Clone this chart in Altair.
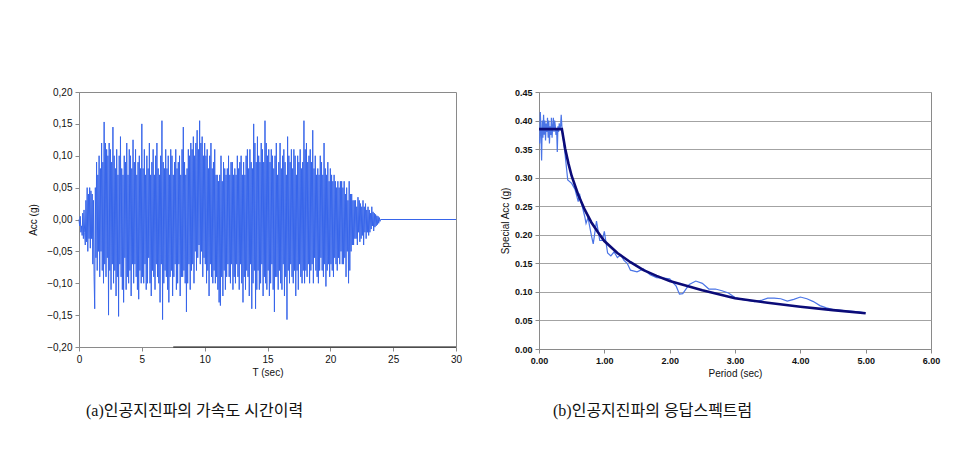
import altair as alt
import pandas as pd

# ---------------- (a) acceleration time history, dt = 0.05 s, one row per second
acc_rows = [
    [0.00,-0.01,0.005,-0.02,-0.01,-0.025,0.01,-0.03,0.015,-0.02,-0.04,0.03,-0.035,0.05,-0.05,0.04,-0.03,0.05,-0.045,0.045],
    [-0.03,0.04,-0.07,0.03,-0.09,-0.14,0.05,-0.06,0.09,-0.08,0.07,-0.05,0.10,-0.09,0.08,-0.05,0.12,-0.08,0.09,-0.10],
    [0.153,-0.07,0.12,-0.09,0.11,-0.06,0.10,-0.15,0.12,-0.08,0.11,-0.11,0.09,-0.07,0.145,-0.10,0.10,-0.08,0.08,-0.12],
    [0.11,-0.09,0.07,-0.152,0.10,-0.07,0.13,-0.09,0.08,-0.11,0.07,-0.13,0.10,-0.06,0.09,-0.11,0.12,-0.09,0.07,-0.10],
    [0.11,-0.08,0.10,-0.12,0.08,-0.07,0.125,-0.10,0.09,-0.07,0.11,-0.09,0.07,-0.11,0.09,-0.125,0.10,-0.08,0.08,-0.10],
    [0.15,-0.09,0.08,-0.10,0.11,-0.07,0.07,-0.11,0.10,-0.10,0.08,-0.06,0.12,-0.10,0.07,-0.12,0.09,-0.08,0.11,-0.09],
    [0.07,-0.11,0.10,-0.07,0.12,-0.09,0.08,-0.10,0.07,-0.13,0.10,-0.07,0.155,-0.157,0.09,-0.10,0.08,-0.08,0.11,-0.09],
    [0.08,-0.11,0.10,-0.13,0.07,-0.09,0.11,-0.08,0.10,-0.12,0.07,-0.09,0.09,-0.07,0.11,-0.11,0.08,-0.10,0.09,-0.07],
    [0.10,-0.12,0.07,-0.09,0.11,-0.09,0.145,-0.08,0.09,-0.10,0.07,-0.145,0.08,-0.10,0.11,-0.07,0.10,-0.11,0.12,-0.08],
    [0.11,-0.07,0.13,-0.10,0.10,-0.05,0.12,-0.08,0.14,-0.06,0.11,-0.04,0.155,-0.07,0.12,-0.05,0.13,-0.09,0.10,-0.06],
    [0.12,-0.07,0.10,-0.10,0.11,-0.08,0.08,-0.12,0.10,-0.07,0.12,-0.09,0.08,-0.10,0.09,-0.08,0.11,-0.10,0.07,-0.09],
    [0.07,-0.11,0.06,-0.13,0.07,-0.135,0.10,-0.09,0.06,-0.12,0.09,-0.08,0.08,-0.11,0.07,-0.09,0.08,-0.07,0.10,-0.09],
    [0.07,-0.10,0.09,-0.07,0.09,-0.11,0.07,-0.09,0.08,-0.10,0.07,-0.07,0.10,-0.09,0.08,-0.11,0.09,-0.07,0.10,-0.10],
    [0.07,-0.13,0.09,-0.09,0.07,-0.11,0.10,-0.08,0.11,-0.09,0.08,-0.12,0.11,-0.07,0.09,-0.14,0.08,-0.10,0.15,-0.08],
    [0.12,-0.14,0.09,-0.11,0.13,-0.08,0.10,-0.11,0.09,-0.10,0.12,-0.07,0.11,-0.12,0.09,-0.09,0.155,-0.10,0.12,-0.11],
    [0.10,-0.08,0.11,-0.12,0.09,-0.10,0.11,-0.07,0.10,-0.11,0.08,-0.145,0.10,-0.09,0.12,-0.09,0.07,-0.11,0.09,-0.08],
    [0.12,-0.10,0.08,-0.11,0.10,-0.07,0.11,-0.12,0.09,-0.09,0.07,-0.157,0.13,-0.08,0.10,-0.10,0.09,-0.07,0.11,-0.09],
    [0.08,-0.10,0.11,-0.08,0.10,-0.12,0.07,-0.08,0.10,-0.11,0.09,-0.07,0.11,-0.09,0.08,-0.10,0.09,-0.08,0.155,-0.10],
    [0.11,-0.08,0.12,-0.09,0.09,-0.07,0.10,-0.10,0.11,-0.08,0.09,-0.07,0.14,-0.10,0.08,-0.06,0.10,-0.08,0.07,-0.09],
    [0.08,-0.10,0.07,-0.08,0.10,-0.06,0.09,-0.08,0.07,-0.09,0.12,-0.07,0.08,-0.105,0.07,-0.08,0.09,-0.07,0.06,-0.09],
    [0.08,-0.07,0.07,-0.08,0.06,-0.09,0.07,-0.06,0.06,-0.07,0.05,-0.08,0.06,-0.06,0.05,-0.07,0.06,-0.05,0.06,-0.07],
    [0.05,-0.07,0.06,-0.06,0.04,-0.09,0.05,-0.05,0.03,-0.10,0.06,-0.08,0.04,-0.05,0.04,-0.04,0.03,-0.04,0.03,-0.03],
    [0.03,-0.03,0.02,-0.04,0.035,-0.02,0.03,-0.035,0.025,-0.03,0.02,-0.025,0.03,-0.04,0.02,-0.02,0.025,-0.03,0.015,-0.02],
    [0.02,-0.025,0.015,-0.02,0.01,-0.015,0.02,-0.01,0.012,-0.018,0.01,-0.012,0.008,-0.01,0.006,-0.008,0.005,-0.006,0.003,-0.003],
]
acc_tail_t = [24.0, 30.0]
acc_tail_v = [0.0, 0.0]
dt = 0.05

# ---------------- (b) response spectrum
spec_T = [0.01,0.02,0.03,0.04,0.05,0.06,0.07,0.08,0.09,0.10,0.11,0.12,0.13,0.14,0.15,0.16,0.17,0.18,
          0.19,0.20,0.21,0.22,0.23,0.24,0.25,0.26,0.27,0.28,0.29,0.30,0.31,0.32,0.33,0.34,0.35,
          0.40,0.44,0.50,0.55,0.60,0.62,0.65,0.70,0.72,0.75,0.80,0.83,0.88,0.93,0.97,1.00,1.05,1.10,1.15,
          1.20,1.25,1.30,1.35,1.40,1.50,1.60,1.70,1.80,1.90,2.00,2.10,2.15,2.20,2.30,2.40,2.50,2.60,
          2.70,2.80,2.90,3.00,3.10,3.20,3.30,3.40,3.50,3.60,3.70,3.80,3.90,4.00,4.10,4.20,4.30,4.40,
          4.50,4.60,4.70,4.80,4.90,5.00]
spec_A = [0.36,0.415,0.38,0.33,0.40,0.37,0.41,0.375,0.40,0.365,0.395,0.38,0.405,0.37,0.40,0.36,0.39,0.375,
          0.405,0.37,0.39,0.405,0.38,0.40,0.39,0.375,0.385,0.345,0.39,0.38,0.395,0.385,0.39,0.41,0.39,
          0.34,0.296,0.29,0.28,0.258,0.272,0.255,0.232,0.22,0.23,0.20,0.184,0.224,0.19,0.19,0.206,0.168,0.163,0.17,
          0.16,0.165,0.155,0.15,0.138,0.135,0.14,0.13,0.125,0.124,0.123,0.11,0.096,0.097,0.113,0.119,0.115,0.105,
          0.105,0.102,0.098,0.09,0.087,0.085,0.083,0.085,0.089,0.089,0.088,0.084,0.087,0.091,0.088,0.083,0.076,0.072,
          0.069,0.068,0.067,0.066,0.065,0.063]

design_T = [0.00,0.35,0.40,0.45,0.50,0.60,0.70,0.80,0.90,1.00,1.20,1.40,1.60,1.80,2.00,2.50,3.00,3.50,4.00,4.50,5.00]
design_A = [0.385,0.385,0.351,0.325,0.303,0.270,0.244,0.222,0.205,0.189,0.168,0.152,0.138,0.128,0.119,0.103,0.089,0.081,0.074,0.068,0.0625]

caption_a = "(a)인공지진파의 가속도 시간이력"
caption_b = "(b)인공지진파의 응답스펙트럼"

# ---------------- tables
t_vals, a_vals = [], []
for s, row in enumerate(acc_rows):
    for k, v in enumerate(row):
        t_vals.append(round(s + k * dt, 3))
        a_vals.append(v)
t_vals += acc_tail_t
a_vals += acc_tail_v
acc_df = pd.DataFrame({"t": t_vals, "a": a_vals})
spec_df = pd.DataFrame({"T": spec_T, "A": spec_A})
design_df = pd.DataFrame({"T": design_T, "A": design_A})

LAB = "Liberation Sans"
CAP = "Liberation Serif, Noto Sans CJK KR"
GRAY = "#8a8a8a"

common = dict(labelFont=LAB, titleFont=LAB, titleFontSize=10, titleFontWeight="normal",
              domainColor=GRAY, tickColor=GRAY, labelColor="#111", titleColor="#111",
              labelOverlap=False, labelFlush=False, tickSize=4, labelPadding=3, tickCount=30)

# ---------------- left chart
xa = alt.X("t:Q", scale=alt.Scale(domain=[0, 30], nice=False),
           axis=alt.Axis(title="T (sec)", values=[0, 5, 10, 15, 20, 25, 30], grid=False,
                         titlePadding=3, labelFontSize=10, **common))
ya = alt.Y("a:Q", scale=alt.Scale(domain=[-0.2, 0.2], nice=False),
           axis=alt.Axis(title="Acc (g)", values=[-0.2, -0.15, -0.1, -0.05, 0, 0.05, 0.1, 0.15, 0.2],
                         grid=False, titlePadding=8, labelFontSize=10,
                         labelExpr="replace(format(datum.value, '.2f'), '.', ',')", **common))
acc_line = alt.Chart(acc_df).mark_line(color="#3765ea", strokeWidth=1.0).encode(x=xa, y=ya)
base_rule = alt.Chart(pd.DataFrame({"t": [7.5], "t2": [30], "a": [-0.2]})).mark_rule(
    color="#111", strokeWidth=1.2).encode(x="t:Q", x2="t2:Q", y="a:Q")
cap_a = alt.Chart(pd.DataFrame({"c": [caption_a]})).mark_text(
    font=CAP, fontSize=16, align="left", baseline="middle", color="#111").encode(
    text="c:N", x=alt.value(7), y=alt.value(319))
left = alt.layer(acc_line, base_rule, cap_a).properties(width=377, height=255)

# ---------------- right chart
xb = alt.X("T:Q", scale=alt.Scale(domain=[0, 6], nice=False),
           axis=alt.Axis(title="Period (sec)", values=[0, 1, 2, 3, 4, 5, 6], format=".2f", grid=False,
                         titlePadding=3, labelFontSize=9, labelFontWeight="bold", **common))
yb = alt.Y("A:Q", scale=alt.Scale(domain=[0, 0.45], nice=False),
           axis=alt.Axis(title="Special Acc (g)", values=[0, 0.05, 0.1, 0.15, 0.2, 0.25, 0.3, 0.35, 0.4, 0.45],
                         format=".2f", grid=True, gridColor="#a3a3a3", gridWidth=1,
                         titlePadding=4, labelFontSize=9, labelFontWeight="bold", **common))
spec_line = alt.Chart(spec_df).mark_line(color="#4a74e6", strokeWidth=1.2).encode(x=xb, y=yb)
design_line = alt.Chart(design_df).mark_line(color="#0b0b78", strokeWidth=2.6).encode(x="T:Q", y="A:Q")
cap_b = alt.Chart(pd.DataFrame({"c": [caption_b]})).mark_text(
    font=CAP, fontSize=16, align="left", baseline="middle", color="#111").encode(
    text="c:N", x=alt.value(14), y=alt.value(319))
right = alt.layer(spec_line, design_line, cap_b).properties(width=392, height=257)

chart = alt.hconcat(left, right, spacing=36).properties(
    padding={"left": 28, "top": 86, "right": 5, "bottom": 5},
    background="white",
).configure_view(stroke=GRAY, strokeWidth=1)

chart.save("out.html", embed_options={"renderer": "svg", "actions": False})
